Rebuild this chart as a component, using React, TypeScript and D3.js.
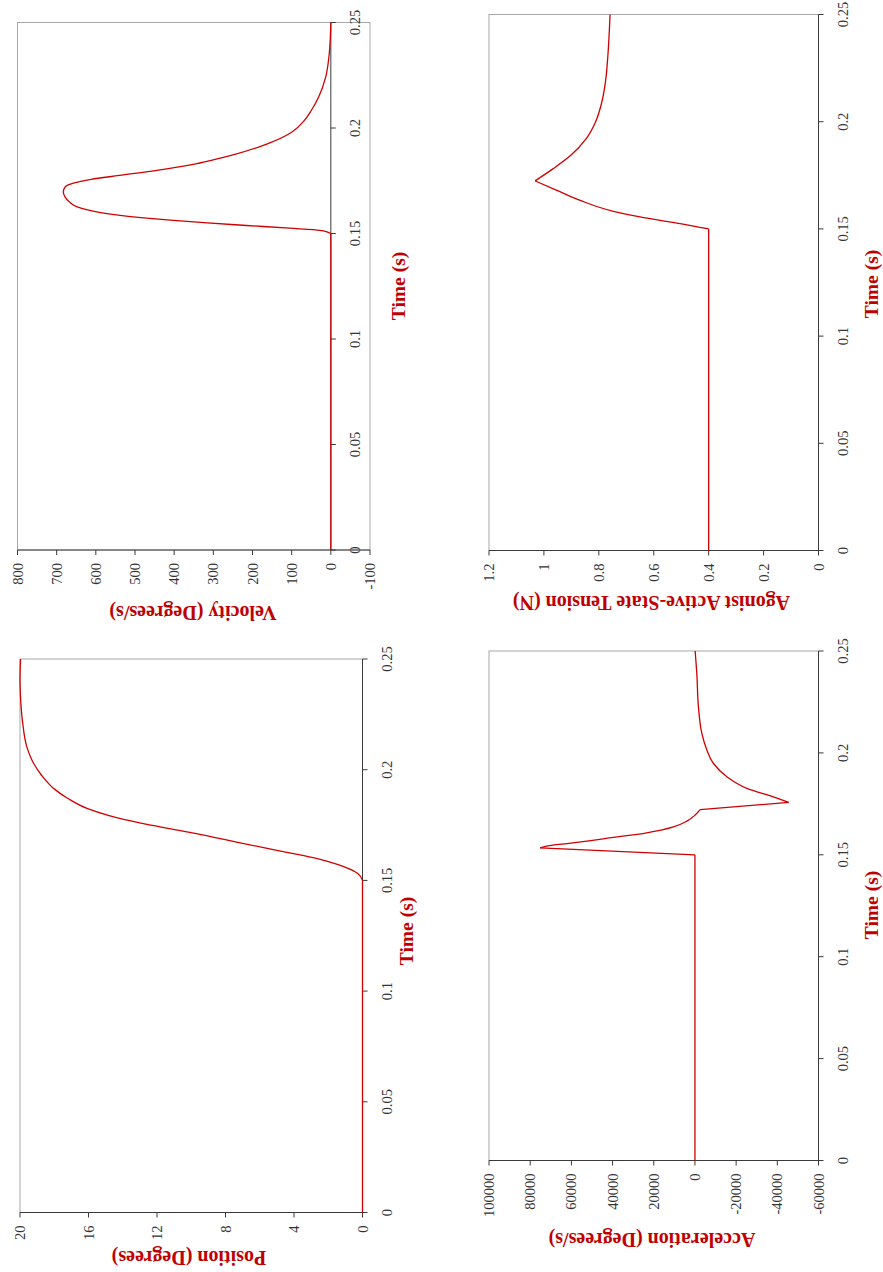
import React from 'react';
import * as d3 from 'd3';

// Shared time axis (seconds)
const timeTicks = [0, 0.05, 0.1, 0.15, 0.2, 0.25];
const timeTickLabels = ['0', '0.05', '0.1', '0.15', '0.2', '0.25'];

// Position (degrees)
const positionTime = [0, 0.15, 0.153, 0.1563, 0.1603, 0.1636, 0.1673, 0.1711, 0.1741, 0.1759, 0.1794, 0.1824, 0.187, 0.191, 0.1975, 0.2028, 0.2103, 0.2209, 0.2314, 0.2405, 0.25];
const positionValue = [0, 0, 0.26, 1.13, 2.88, 5.0, 7.36, 9.7, 11.75, 12.95, 14.85, 16.05, 17.2, 17.95, 18.74, 19.2, 19.6, 19.84, 19.96, 20.0, 19.97];
const positionTicks = [0, 4, 8, 12, 16, 20];
const positionBreaks = [0.15];

// Velocity (degrees/s)
const velocityTime = [0, 0.15, 0.1515, 0.1525, 0.1538, 0.155, 0.1563, 0.1575, 0.1588, 0.16, 0.1613, 0.1625, 0.165, 0.1675, 0.1696, 0.1716, 0.1729, 0.174, 0.1757, 0.1775, 0.18, 0.1826, 0.185, 0.1875, 0.1925, 0.198, 0.2035, 0.2083, 0.2147, 0.2242, 0.2353, 0.25];
const velocityValue = [0, 0, 28, 105, 215, 315, 410, 485, 548, 592, 624, 646, 668, 679, 683, 680, 672, 655, 612, 540, 440, 355, 298, 245, 162, 100, 68, 50, 31, 13, 4, 0];
const velocityTicks = [-100, 0, 100, 200, 300, 400, 500, 600, 700, 800];
const velocityBreaks = [0.15];

// Agonist active-state tension (N)
const tensionTime = [0, 0.15, 0.1525, 0.1556, 0.1582, 0.1633, 0.168, 0.1724, 0.1781, 0.1843, 0.1921, 0.1999, 0.2092, 0.2185, 0.231, 0.2419, 0.25];
const tensionValue = [0.4, 0.4, 0.504, 0.65, 0.747, 0.868, 0.953, 1.032, 0.966, 0.902, 0.846, 0.812, 0.789, 0.776, 0.767, 0.762, 0.759];
const tensionTicks = [0, 0.2, 0.4, 0.6, 0.8, 1, 1.2];
const tensionBreaks = [0.15, 0.1724];

// Acceleration (degrees/s^2)
const accelTime = [0, 0.15, 0.1534, 0.1547, 0.1555, 0.1585, 0.1608, 0.1637, 0.1665, 0.1695, 0.1722, 0.1757, 0.1784, 0.1826, 0.1883, 0.1948, 0.2014, 0.2096, 0.2226, 0.239, 0.25];
const accelValue = [0, 0, 75200, 69000, 62000, 39600, 23400, 10400, 3900, -100, -2500, -45500, -38000, -25200, -15500, -9000, -5800, -3350, -1700, -900, -100];
const accelTicks = [-60000, -40000, -20000, 0, 20000, 40000, 60000, 80000, 100000];
const accelBreaks = [0.15, 0.1534, 0.1722, 0.1757];

const CURVE = '#d00000';
const TITLE = '#c00000';
const TICK_TEXT = '#333333';
const AXIS = '#3a3a3a';
const FRAME = '#a8a8a8';
const SERIF = '"Liberation Serif", "Times New Roman", serif';

type PanelProps = {
  time: number[];
  values: number[];
  breaks: number[];
  valueMax: number;
  valueMin: number;
  valueTicks: number[];
  crossAt: number;
  left: number;
  right: number;
  top: number;
  bottom: number;
  title: string;
  titleX: number;
  titleY: number;
  timeTitleX: number;
  timeTitleY: number;
};

function Panel(p: PanelProps) {
  // The page is laid out sideways: time runs bottom-to-top, values run right-to-left.
  const v = d3.scaleLinear().domain([p.valueMax, p.valueMin]).range([p.left, p.right]);
  const t = d3.scaleLinear().domain([0, 0.25]).range([p.bottom, p.top]);
  const axisX = v(p.crossAt);

  const line = d3
    .line<[number, number]>()
    .x((d) => v(d[1]))
    .y((d) => t(d[0]))
    .curve(d3.curveMonotoneY);

  // Split the trace at its corners so the smoothing keeps them sharp.
  const pieces: [number, number][][] = [];
  let cur: [number, number][] = [];
  p.time.forEach((tt, i) => {
    const pt: [number, number] = [tt, p.values[i]];
    cur.push(pt);
    if (p.breaks.includes(tt) && i > 0 && i < p.time.length - 1) {
      pieces.push(cur);
      cur = [pt];
    }
  });
  pieces.push(cur);

  return (
    <g>
      {/* plot frame */}
      <rect x={p.left} y={p.top} width={p.right - p.left} height={p.bottom - p.top} fill="none" stroke={FRAME} strokeWidth={1} />

      {/* value axis along the t = 0 edge */}
      <line x1={p.left} x2={p.right} y1={p.bottom} y2={p.bottom} stroke={AXIS} strokeWidth={1} />
      {p.valueTicks.map((val) => (
        <g key={'v' + val}>
          <line x1={v(val)} x2={v(val)} y1={p.bottom} y2={p.bottom + 5} stroke={AXIS} strokeWidth={1} />
          <text
            transform={`translate(${v(val)},${p.bottom + 13}) rotate(-90)`}
            textAnchor="end"
            dominantBaseline="central"
            fontFamily={SERIF}
            fontSize={14.5}
            fill={TICK_TEXT}
          >
            {String(val)}
          </text>
        </g>
      ))}

      {/* time axis */}
      <line x1={axisX} x2={axisX} y1={p.bottom} y2={p.top} stroke={AXIS} strokeWidth={1} />
      {timeTicks.map((tt, i) => (
        <g key={'t' + tt}>
          <line x1={axisX} x2={axisX + 5} y1={t(tt)} y2={t(tt)} stroke={AXIS} strokeWidth={1} />
          <text
            transform={`translate(${axisX + 24.5},${t(tt)}) rotate(-90)`}
            textAnchor="middle"
            dominantBaseline="central"
            fontFamily={SERIF}
            fontSize={14.5}
            fill={TICK_TEXT}
          >
            {timeTickLabels[i]}
          </text>
        </g>
      ))}

      {/* data trace */}
      {pieces.map((pc, i) => (
        <path key={'c' + i} d={line(pc) || ''} fill="none" stroke={CURVE} strokeWidth={1.3} />
      ))}

      {/* axis titles */}
      <text
        transform={`translate(${p.titleX},${p.titleY}) rotate(180)`}
        textAnchor="middle"
        dominantBaseline="central"
        fontFamily={SERIF}
        fontWeight="bold"
        fontSize={20}
        fill={TITLE}
      >
        {p.title}
      </text>
      <text
        transform={`translate(${p.timeTitleX},${p.timeTitleY}) rotate(-90)`}
        textAnchor="middle"
        dominantBaseline="central"
        fontFamily={SERIF}
        fontWeight="bold"
        fontSize={19.5}
        fill={TITLE}
      >
        Time (s)
      </text>
    </g>
  );
}

export default function App() {
  return (
    <svg
      width={883}
      height={1272}
      viewBox="0 0 883 1272"
      style={{ position: 'absolute', left: 0, top: 0, background: '#ffffff' }}
    >
      <Panel
        time={velocityTime}
        values={velocityValue}
        breaks={velocityBreaks}
        valueMax={800}
        valueMin={-100}
        valueTicks={velocityTicks}
        crossAt={0}
        left={17.5}
        right={370}
        top={22.5}
        bottom={550}
        title="Velocity (Degrees/s)"
        titleX={193}
        titleY={613}
        timeTitleX={398}
        timeTitleY={286}
      />
      <Panel
        time={positionTime}
        values={positionValue}
        breaks={positionBreaks}
        valueMax={20}
        valueMin={0}
        valueTicks={positionTicks}
        crossAt={0}
        left={20}
        right={362.5}
        top={659}
        bottom={1212.5}
        title="Position (Degrees)"
        titleX={189}
        titleY={1258}
        timeTitleX={406}
        timeTitleY={931}
      />
      <Panel
        time={tensionTime}
        values={tensionValue}
        breaks={tensionBreaks}
        valueMax={1.2}
        valueMin={0}
        valueTicks={tensionTicks}
        crossAt={0}
        left={489}
        right={818.5}
        top={14.5}
        bottom={550.5}
        title="Agonist Active-State Tension (N)"
        titleX={651.5}
        titleY={603}
        timeTitleX={871}
        timeTitleY={284}
      />
      <Panel
        time={accelTime}
        values={accelValue}
        breaks={accelBreaks}
        valueMax={100000}
        valueMin={-60000}
        valueTicks={accelTicks}
        crossAt={-60000}
        left={489}
        right={818.5}
        top={651}
        bottom={1160.5}
        title="Acceleration (Degrees/s)"
        titleX={652}
        titleY={1240}
        timeTitleX={871}
        timeTitleY={905}
      />
    </svg>
  );
}
